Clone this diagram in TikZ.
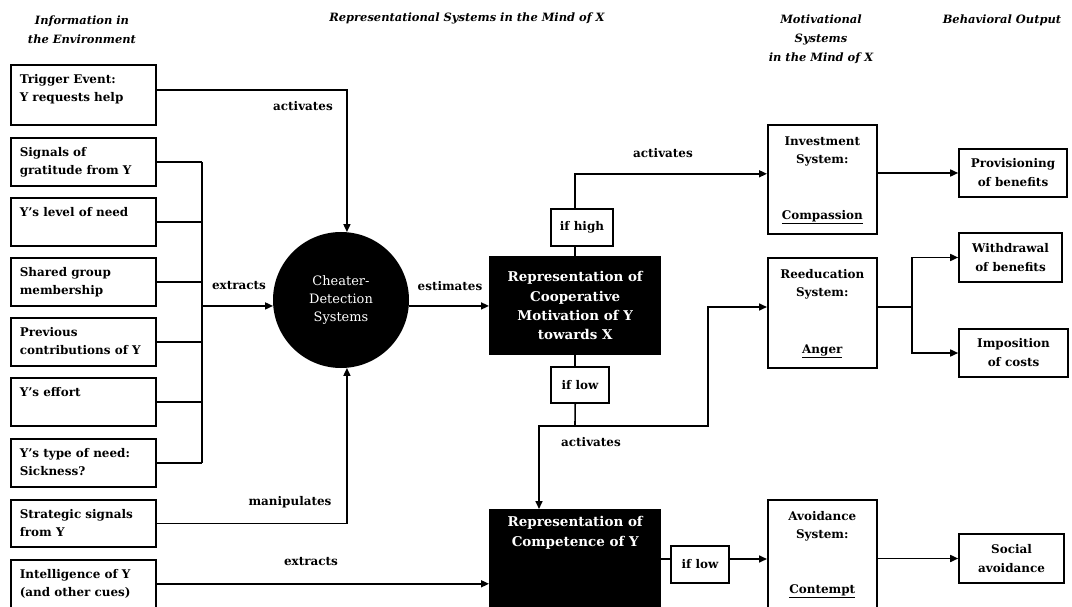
\documentclass[tikz,border=0pt]{standalone}
\usepackage{fontspec}
\setmainfont{DejaVu Serif}
\usetikzlibrary{arrows.meta}
\newcommand\tbx[3]{\parbox[c][#2][t]{#1}{\strut #3}}
\newcommand\sbx[4]{\parbox[c][#2][s]{#1}{\centering\vspace*{2bp}\strut #3\par\vfill #4\strut\par\vspace*{4bp}}}
\begin{document}
\begin{tikzpicture}[x=1bp,y=-1bp,
  every node/.style={font=\fontsize{12}{19}\selectfont\bfseries},
  ln/.style={line width=1.6bp},
  arr/.style={line width=1.6bp,-{Triangle[length=8bp,width=7bp]}},
  lbox/.style={draw,line width=1.6bp,anchor=north west,inner xsep=9bp,inner ysep=5bp,align=left},
  mbox/.style={draw,line width=1.6bp,anchor=north west,inner xsep=3bp,inner ysep=5bp,align=center},
  obox/.style={draw,line width=1.6bp,inner sep=0bp,align=center},
  cbox/.style={draw,line width=1.6bp,inner sep=0bp,align=center},
  bbox/.style={fill=black,text=white,anchor=north west,inner sep=0bp,align=center,font=\fontsize{13.5}{19.5}\selectfont\bfseries},
  hdr/.style={align=center,font=\fontsize{11.5}{19}\selectfont\bfseries\itshape},
  lab/.style={inner sep=0bp}]
\useasboundingbox (0,0) rectangle (1072,607);
\clip (0,0) rectangle (1072,607);
\fill[white] (0,0) rectangle (1072,607);
% headers
\node[hdr] (h1) at (82,30) {Information in\\the Environment};
\node[hdr] (h2) at (467,18) {Representational Systems in the Mind of X};
\node[hdr] (h3) at (821,39) {Motivational\\Systems\\in the Mind of X};
\node[hdr] (h4) at (1002,20) {Behavioral Output};
% left boxes
\node[lbox] (trig) at (10,64) {\tbx{127bp}{50bp}{Trigger Event:\\Y requests help}};
\node[lbox] (sig) at (10,137) {\tbx{127bp}{38bp}{Signals of\\gratitude from Y}};
\node[lbox] (lvl) at (10,197) {\tbx{127bp}{38bp}{Y's level of need}};
\node[lbox] (shr) at (10,257) {\tbx{127bp}{38bp}{Shared group\\membership}};
\node[lbox] (prv) at (10,317) {\tbx{127bp}{38bp}{Previous\\contributions of Y}};
\node[lbox] (eff) at (10,377) {\tbx{127bp}{38bp}{Y's effort}};
\node[lbox] (typ) at (10,438) {\tbx{127bp}{38bp}{Y's type of need:\\Sickness?}};
\node[lbox] (str) at (10,499) {\tbx{127bp}{37bp}{Strategic signals\\from Y}};
\node[lbox] (int) at (10,559) {\tbx{127bp}{38bp}{Intelligence of Y\\(and other cues)}};
% circle
\node[circle,fill=black,text=white,minimum size=136bp,inner sep=0bp,align=center,
  font=\fontsize{13}{18}\selectfont] (cds) at (341,300) {Cheater-\\Detection\\Systems};
% black boxes
\node[bbox,minimum width=172bp,minimum height=99bp] (coop) at (489,256)
  {Representation of\\Cooperative\\Motivation of Y\\towards X};
\node[bbox,minimum width=172bp,minimum height=104bp] (comp) at (489,509)
  {\parbox[c][104bp][t]{172bp}{\centering\vspace*{4bp}\strut Representation of\\Competence of Y}};
% condition boxes
\node[cbox,minimum width=62bp,minimum height=37bp] (ifhigh) at (582,227.5) {if high};
\node[cbox,minimum width=58bp,minimum height=36bp] (iflowa) at (580,385) {if low};
\node[cbox,minimum width=58bp,minimum height=37bp] (iflowb) at (700,564.5) {if low};
% motivational boxes
\node[mbox] (inv) at (767,124) {\sbx{103bp}{99bp}{Investment\\System:}{\underline{Compassion}}};
\node[mbox] (reed) at (767,257) {\sbx{103bp}{100bp}{Reeducation\\System:}{\underline{Anger}}};
\node[mbox] (avoid) at (767,499) {\sbx{103bp}{98bp}{Avoidance\\System:}{\underline{Contempt}}};
% output boxes
\node[obox,minimum width=108bp,minimum height=48bp] (prov) at (1013,173) {Provisioning\\of benefits};
\node[obox,minimum width=103bp,minimum height=49bp] (withd) at (1010.5,257.5) {Withdrawal\\of benefits};
\node[obox,minimum width=109bp,minimum height=48bp] (impo) at (1013.5,353) {Imposition\\of costs};
\node[obox,minimum width=105bp,minimum height=49bp] (soc) at (1011.5,558.5) {Social\\avoidance};
% labels
\node[lab] (l1) at (303,106) {activates};
\node[lab] (l2) at (239,286) {extracts};
\node[lab] (l3) at (450,286) {estimates};
\node[lab] (l4) at (663,153) {activates};
\node[lab] (l5) at (591,442) {activates};
\node[lab] (l6) at (290,502) {manipulates};
\node[lab] (l7) at (311,562) {extracts};
% coordinates
\coordinate (bus) at (202,306);
\coordinate (jn) at (575,426);
\coordinate (jl) at (539,426);
\coordinate (jr) at (708,307);
\coordinate (fork) at (912,307);
% connectors
\draw[arr] ([yshift=5bp]trig.east) -| (cds.85);
\foreach \b in {sig,lvl,shr,prv,eff,typ} \draw[ln] (\b.east) -- (\b.east -| bus);
\draw[ln] (sig.east -| bus) -- (typ.east -| bus);
\draw[arr] (bus) -- (cds.185);
\draw[arr] (str.east) -| (cds.275);
\draw[arr] (int.east) -- (int.east -| comp.west);
\draw[arr] (cds.-5) -- (cds.-5 -| coop.west);
\draw[ln] (coop.north) -- (coop.north |- ifhigh.south);
\draw[arr] (coop.north |- ifhigh.north) |- ([yshift=5.5bp]inv.west);
\draw[arr] (inv.east |- prov.west) -- (prov.west);
\draw[ln] (coop.south) -- (coop.south |- iflowa.north);
\draw[ln] (coop.south |- iflowa.south) -- (jn);
\draw[arr] (jn) -- (jl) -- (jl |- comp.north);
\draw[arr] (jn) -| (jr) -- (jr -| reed.west);
\draw[ln] (reed.east |- fork) -- (fork);
\draw[arr] (fork) |- (withd.west);
\draw[arr] (fork) |- (impo.west);
\path ([yshift=5.5bp]iflowb.west) coordinate (ibw) ([yshift=5.5bp]iflowb.east) coordinate (ibe);
\draw[ln] (comp.east |- ibw) -- (ibw);
\draw[arr] (ibe) -- (ibe -| avoid.west);
\draw[arr] (avoid.east |- soc.west) -- (soc.west);
\end{tikzpicture}
\end{document}
